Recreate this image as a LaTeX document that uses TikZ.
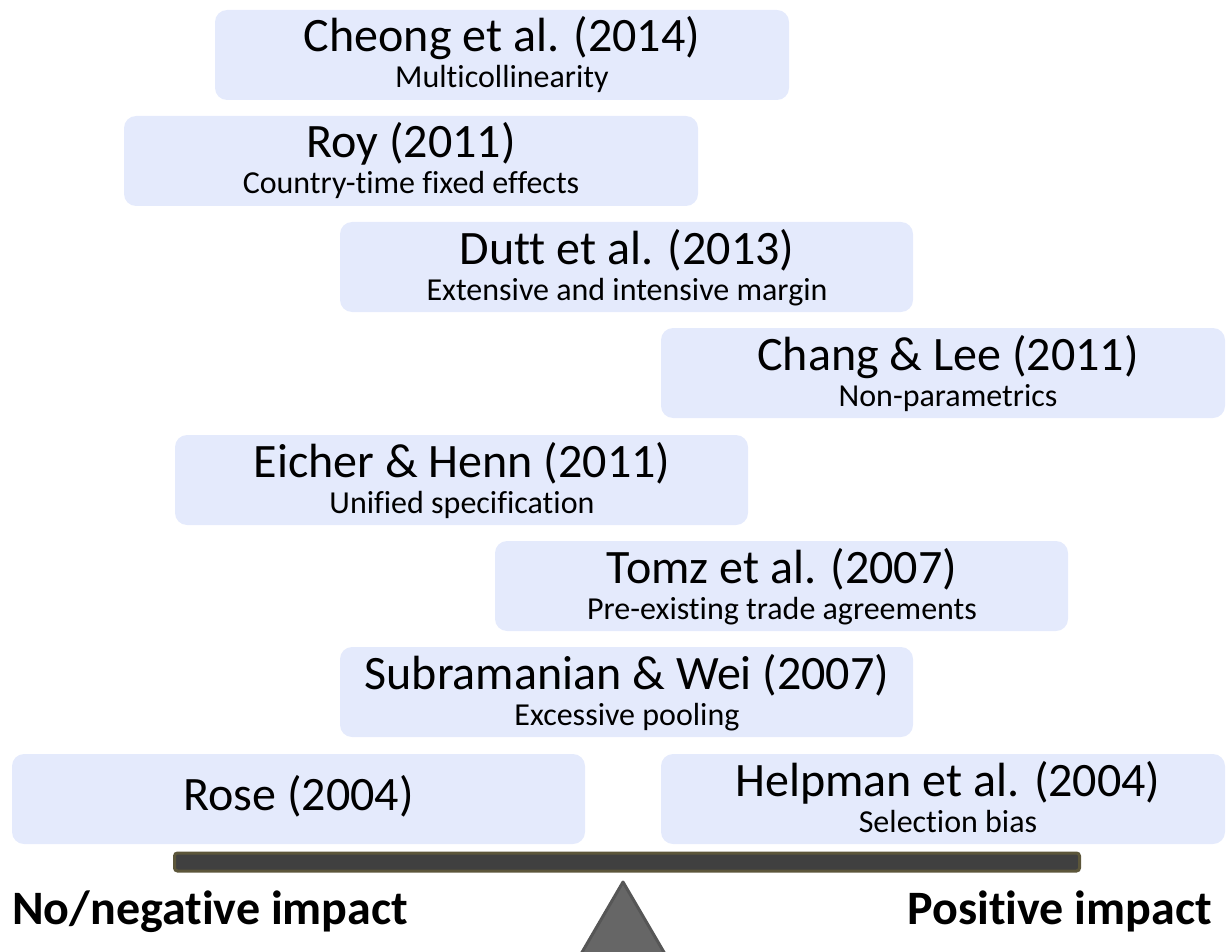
\documentclass[tikz,border=0pt]{standalone}
\usepackage{fontspec}
\setmainfont{Carlito}[Ligatures={NoCommon}]
\definecolor{boxfill}{RGB}{228,234,252}
\definecolor{beamfill}{RGB}{64,64,64}
\definecolor{beamedge}{RGB}{92,86,58}
\definecolor{pivotfill}{RGB}{102,102,102}
\definecolor{pivotedge}{RGB}{86,86,86}
\tikzset{
  paperbox/.style={fill=boxfill, draw=none, rounded corners=12pt, inner sep=0pt, minimum height=90pt},
  titletext/.style={anchor=base, inner sep=0pt, font=\fontsize{48}{58}\selectfont},
  subtext/.style={anchor=base, inner sep=0pt, font=\fontsize{32}{38}\selectfont},
  sidelabel/.style={inner sep=0pt, font=\fontsize{48}{58}\selectfont\bfseries},
}
% #1 name, #2 left edge, #3 top edge, #4 width, #5 author line, #6 topic line
\newcommand\paperentry[6]{%
  \node[paperbox, minimum width=#4] (#1) at (#2+#4/2, #3+45) {};
  \node[titletext] (#1-t) at (#2+287, #3+42) {#5};
  \node[subtext] (#1-s) at (#2+287, #3+78) {#6};
}
\begin{document}
\begin{tikzpicture}[x=1pt, y=-1pt]
  \useasboundingbox (0,0) rectangle (1226,952);
  \paperentry{cheong}{215}{10}{574}{Cheong et al. (2014)}{Multicollinearity}
  \paperentry{roy}{124}{116}{574}{Roy (2011)}{Country-time fixed effects}
  \paperentry{dutt}{340}{222}{573}{Dutt et al. (2013)}{Extensive and intensive margin}
  \paperentry{chang}{661}{328}{564}{Chang \& Lee (2011)}{Non-parametrics}
  \paperentry{eicher}{175}{435}{573}{Eicher \& Henn (2011)}{Unified specification}
  \paperentry{tomz}{495}{541}{573}{Tomz et al. (2007)}{Pre-existing trade agreements}
  \paperentry{subra}{340}{647}{573}{Subramanian \& Wei (2007)}{Excessive pooling}
  \paperentry{helpman}{661}{754}{564}{Helpman et al. (2004)}{Selection bias}
  \node[paperbox, minimum width=573] (rose) at (298.5, 799) {};
  \node[titletext] (rose-t) at (298.5, 810) {Rose (2004)};
  % the beam and its pivot
  \node[fill=beamfill, draw=beamedge, line width=3pt, rounded corners=3pt,
        minimum width=905, minimum height=18, inner sep=0pt] (beam) at (627, 862) {};
  \filldraw[fill=pivotfill, draw=pivotedge, line width=3pt, line join=round]
    (623, 882) -- (665, 954) -- (581, 954) -- cycle;
  \node[sidelabel, anchor=base west] (neg) at (12, 924) {No/negative impact};
  \node[sidelabel, anchor=base east] (pos) at (1212, 924) {Positive impact};
\end{tikzpicture}
\end{document}
